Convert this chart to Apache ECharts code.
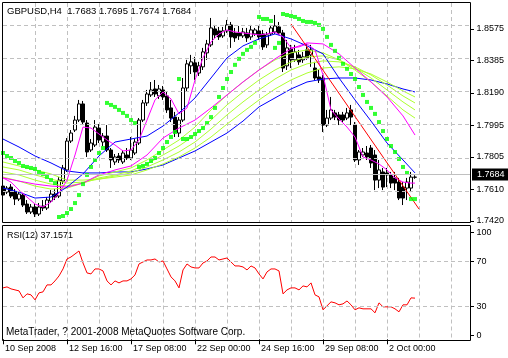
<!DOCTYPE html>
<html><head><meta charset="utf-8">
<script src="https://cdn.jsdelivr.net/npm/echarts@6.0.0/dist/echarts.min.js"></script>
<style>html,body{margin:0;padding:0;background:#fff}#c{width:508px;height:358px}</style>
</head><body><div id="c"></div>
<script>
const tickLabels = ['10 Sep 2008','12 Sep 16:00','17 Sep 08:00','22 Sep 00:00','24 Sep 16:00','29 Sep 08:00','2 Oct 00:00'];
const priceTicks = [1.7420, 1.7610, 1.7805, 1.7995, 1.8190, 1.8385, 1.8575];
const rsiLevels = [0, 30, 70, 100];
const lastPrice = 1.7684;
const titleText = 'GBPUSD,H4  1.7683 1.7695 1.7674 1.7684';
const rsiText = 'RSI(12) 37.1571';
const copyText = 'MetaTrader, ? 2001-2008 MetaQuotes Software Corp.';

const opens = [1.7630,1.7594,1.7624,1.7594,1.7552,1.7576,1.7522,1.7474,1.7504,1.7462,
 1.7510,1.7498,1.7540,1.7582,1.7570,1.7660,1.7727,1.7901,1.7967,1.8027,
 1.8124,1.8009,1.7847,1.7877,1.7979,1.7895,1.7931,1.7847,1.7775,1.7811,
 1.7775,1.7817,1.7799,1.7829,1.7889,1.8027,1.8130,1.8178,1.8214,1.8172,
 1.8208,1.8172,1.8100,1.8045,1.7949,1.8027,1.8220,1.8353,1.8371,1.8310,
 1.8347,1.8431,1.8479,1.8575,1.8563,1.8533,1.8563,1.8599,1.8551,1.8551,
 1.8533,1.8551,1.8527,1.8545,1.8563,1.8545,1.8479,1.8545,1.8557,1.8587,
 1.8551,1.8353,1.8455,1.8389,1.8419,1.8389,1.8449,1.8419,1.8340,1.8286,
 1.8280,1.7997,1.8039,1.8070,1.8058,1.8058,1.8039,1.8088,1.7997,1.7787,
 1.7817,1.7829,1.7859,1.7817,1.7666,1.7715,1.7709,1.7697,1.7679,1.7654,
 1.7624,1.7618,1.7618,1.7683];
const closes = [1.7576,1.7618,1.7570,1.7552,1.7582,1.7516,1.7474,1.7504,1.7462,1.7504,
 1.7498,1.7546,1.7582,1.7564,1.7666,1.7739,1.7901,1.7949,1.8027,1.8124,
 1.8015,1.7835,1.7889,1.7985,1.7907,1.7931,1.7847,1.7787,1.7805,1.7787,
 1.7829,1.7799,1.7847,1.7895,1.8027,1.8130,1.8184,1.8208,1.8184,1.8214,
 1.8166,1.8088,1.8039,1.7955,1.8027,1.8220,1.8365,1.8377,1.8316,1.8353,
 1.8437,1.8485,1.8581,1.8539,1.8527,1.8563,1.8599,1.8527,1.8521,1.8533,
 1.8557,1.8521,1.8569,1.8569,1.8527,1.8467,1.8539,1.8581,1.8593,1.8551,
 1.8340,1.8461,1.8389,1.8437,1.8377,1.8407,1.8401,1.8449,1.8280,1.8268,
 1.7997,1.8039,1.8088,1.8045,1.8027,1.8027,1.8070,1.8045,1.7787,1.7835,
 1.7835,1.7805,1.7769,1.7666,1.7727,1.7624,1.7697,1.7648,1.7648,1.7558,
 1.7558,1.7654,1.7684,1.7684];
const lows = [1.7552,1.7582,1.7558,1.7516,1.7540,1.7504,1.7462,1.7462,1.7444,1.7450,
 1.7480,1.7486,1.7528,1.7546,1.7558,1.7642,1.7715,1.7889,1.7955,1.8015,
 1.7997,1.7805,1.7835,1.7865,1.7889,1.7871,1.7835,1.7739,1.7757,1.7769,
 1.7763,1.7787,1.7787,1.7817,1.7877,1.8015,1.8112,1.8166,1.8166,1.8154,
 1.8148,1.8070,1.8015,1.7925,1.7925,1.8015,1.8196,1.8304,1.8268,1.8292,
 1.8328,1.8389,1.8467,1.8521,1.8509,1.8521,1.8551,1.8461,1.8497,1.8509,
 1.8521,1.8497,1.8509,1.8533,1.8509,1.8449,1.8461,1.8533,1.8545,1.8539,
 1.8316,1.8328,1.8340,1.8377,1.8359,1.8371,1.8389,1.8347,1.8268,1.8250,
 1.7955,1.7985,1.8027,1.8027,1.7997,1.8015,1.8027,1.7997,1.7775,1.7757,
 1.7805,1.7787,1.7739,1.7606,1.7618,1.7606,1.7624,1.7618,1.7606,1.7546,
 1.7516,1.7546,1.7594,1.7674];
const highs = [1.7648,1.7630,1.7642,1.7612,1.7600,1.7588,1.7546,1.7522,1.7522,1.7528,
 1.7546,1.7564,1.7606,1.7612,1.7684,1.7757,1.7919,1.7967,1.8052,1.8148,
 1.8142,1.8027,1.7913,1.8027,1.8003,1.7949,1.7997,1.7859,1.7823,1.7829,
 1.7847,1.7859,1.7925,1.7913,1.8039,1.8148,1.8208,1.8256,1.8268,1.8238,
 1.8232,1.8196,1.8148,1.8076,1.8045,1.8280,1.8389,1.8419,1.8407,1.8377,
 1.8461,1.8509,1.8641,1.8599,1.8587,1.8587,1.8629,1.8617,1.8581,1.8593,
 1.8581,1.8581,1.8599,1.8581,1.8593,1.8569,1.8557,1.8599,1.8659,1.8617,
 1.8569,1.8509,1.8479,1.8479,1.8449,1.8437,1.8485,1.8479,1.8377,1.8328,
 1.8298,1.8088,1.8166,1.8088,1.8076,1.8076,1.8100,1.8118,1.8015,1.7847,
 1.7859,1.7871,1.7877,1.7847,1.7787,1.7739,1.7739,1.7715,1.7715,1.7679,
 1.7654,1.7679,1.7715,1.7695];
const sar = [1.7829,1.7811,1.7799,1.7781,1.7769,1.7751,1.7745,1.7739,1.7733,1.7715,1.7703,1.7685,1.7666,1.7648,
 1.7444,1.7450,1.7468,1.7492,1.7528,1.7576,1.7642,1.7697,1.7745,1.7787,1.7829,1.7859,
 1.8130,1.8118,1.8106,1.8088,1.8070,1.8052,1.8027,1.8009,
 1.7745,1.7751,1.7763,1.7781,1.7799,1.7829,1.7859,1.7895,1.7925,1.7955,
 1.8274,
 1.7913,1.7913,1.7925,1.7943,1.7961,1.7979,1.8009,1.8045,1.8100,1.8166,1.8220,1.8274,1.8316,1.8359,1.8395,1.8425,1.8449,1.8467,1.8491,
 1.8647,1.8635,1.8635,1.8623,
 1.8461,1.8491,
 1.8665,1.8659,1.8653,1.8647,1.8635,1.8623,1.8617,1.8617,1.8611,1.8599,1.8575,1.8527,1.8479,1.8443,1.8401,1.8365,1.8335,1.8304,1.8274,1.8226,1.8178,1.8136,1.8100,1.8064,1.8015,1.7961,1.7913,1.7871,1.7835,1.7793,1.7745,
 1.7709,
 1.7552,1.7552];
const rsi = [46.4,47.3,45.5,44.6,43.7,37.4,41.0,40.1,35.6,41.9,
 42.8,49.1,49.1,52.7,57.2,63.5,72.5,74.3,77.0,79.7,
 68.9,59.9,59.0,63.5,63.5,61.7,52.7,49.1,52.7,50.9,
 52.7,52.7,54.5,58.1,68.0,69.8,71.6,71.6,72.5,69.8,
 70.7,63.5,56.3,52.7,46.4,62.6,68.0,65.3,64.4,64.4,
 68.9,70.7,74.3,74.3,71.6,72.5,73.4,69.8,66.2,66.2,
 65.3,62.6,66.2,64.4,59.0,54.5,60.8,63.5,63.5,61.7,
 41.0,44.6,46.4,46.4,44.6,48.2,47.3,50.9,40.1,38.3,
 26.6,30.2,33.8,32.9,31.1,32.0,34.6,31.1,26.6,28.4,
 27.5,27.5,27.5,23.9,32.9,29.3,29.3,29.3,27.5,24.8,
 31.1,31.1,37.4,37.1571];

const slowIdx = [0,4,8,12,16,20,24,28,32,36,40,44,48,52,56,60,64,68,72,76,80,84,88,92,96,100,103];
const blueSlow = [1.7913,1.7865,1.7811,1.7769,1.7721,1.7709,1.7709,1.7715,1.7715,1.7733,1.7757,1.7799,1.7841,1.7895,1.7949,1.8021,1.8106,1.8160,1.8214,1.8256,1.8274,1.8280,1.8280,1.8268,1.8244,1.8214,1.8196];
const blueFast = [1.7618,1.7594,1.7558,1.7564,1.7624,1.7703,1.7811,1.7895,1.7913,1.7931,1.7991,1.8070,1.8160,1.8280,1.8401,1.8473,1.8515,1.8545,1.8515,1.8473,1.8425,1.8280,1.8148,1.8021,1.7889,1.7787,1.7709];
const magentaSlow = [1.7679,1.7660,1.7642,1.7630,1.7624,1.7648,1.7697,1.7727,1.7751,1.7817,1.7919,1.7979,1.8027,1.8100,1.8178,1.8256,1.8328,1.8395,1.8455,1.8491,1.8485,1.8425,1.8340,1.8256,1.8166,1.8052,1.7937];
const lime1 = [1.7684,1.7660,1.7630,1.7612,1.7618,1.7648,1.7691,1.7715,1.7739,1.7787,1.7847,1.7907,1.7985,1.8088,1.8178,1.8256,1.8328,1.8389,1.8431,1.8449,1.8431,1.8389,1.8328,1.8256,1.8172,1.8088,1.8039];
const lime2 = [1.7715,1.7697,1.7666,1.7642,1.7630,1.7648,1.7679,1.7697,1.7721,1.7763,1.7817,1.7871,1.7937,1.8027,1.8118,1.8196,1.8268,1.8328,1.8377,1.8407,1.8413,1.8389,1.8340,1.8280,1.8208,1.8136,1.8088];
const lime3 = [1.7745,1.7727,1.7697,1.7672,1.7648,1.7654,1.7672,1.7691,1.7709,1.7745,1.7787,1.7835,1.7895,1.7973,1.8058,1.8136,1.8208,1.8274,1.8328,1.8365,1.8383,1.8377,1.8347,1.8298,1.8238,1.8172,1.8130];
const lime4 = [1.7775,1.7751,1.7727,1.7703,1.7666,1.7666,1.7672,1.7684,1.7697,1.7727,1.7763,1.7805,1.7859,1.7925,1.8003,1.8076,1.8148,1.8214,1.8268,1.8310,1.8340,1.8347,1.8335,1.8304,1.8256,1.8202,1.8166];
const fastIdx = [0,2,4,6,8,10,12,14,16,18,20,22,24,26,28,30,32,34,36,38,40,42,44,46,48,50,52,54,56,58,60,62,64,66,68,70,72,74,76,78,80,82,84,86,88,90,92,94,96,98,100,102,103];
const magentaFast = [1.7679,1.7654,1.7606,1.7564,1.7522,1.7504,1.7534,1.7588,1.7666,1.7817,1.7985,1.7979,1.7943,1.7907,1.7877,1.7841,1.7847,1.7907,1.8027,1.8148,1.8196,1.8154,1.8064,1.8100,1.8268,1.8401,1.8497,1.8545,1.8569,1.8557,1.8551,1.8545,1.8539,1.8545,1.8557,1.8527,1.8461,1.8467,1.8485,1.8449,1.8298,1.8088,1.8033,1.7985,1.7925,1.7805,1.7787,1.7763,1.7727,1.7679,1.7654,1.7648,1.7648];
const regIdx = [72, 104];
const regLine = [1.8605, 1.7492];

const slotCount = 118, labelStep = 16, gridStep = 8;
const cats = Array.from({length: slotCount}, (_, i) => String(i));
const labelFor = i => (i % labelStep === 0 && tickLabels[i / labelStep]) ? tickLabels[i / labelStep] : '';
const FONT = '"Liberation Sans", Arial, sans-serif';
const DASH = {color: '#c0c0c0', width: 1, type: [4, 3]};
const pairs = (idx, vals) => idx.map((x, k) => [x, vals[k]]);
const rsiInset = 3.8;
const rsiPos = rsiLevels.map(v => v === 0 ? v + rsiInset : (v === 100 ? v - rsiInset : v));

const chart = echarts.init(document.getElementById('c'), null, {renderer: 'canvas'});
const lineS = (name, idx, vals, color) => ({
  name, type: 'line', xAxisIndex: 0, yAxisIndex: 0, data: pairs(idx, vals),
  symbol: 'none', lineStyle: {color, width: 1}, z: 3, silent: true
});
const xBase = (gi) => ({
  type: 'category', gridIndex: gi, data: cats, boundaryGap: false,
  axisLine: {show: false},
  splitLine: {show: true, interval: (i) => i > 0 && i % gridStep === 0, lineStyle: DASH}
});
chart.setOption({
  animation: false,
  backgroundColor: '#fff',
  grid: [
    {left: 3, width: 468, top: 3, height: 219},
    {left: 3, width: 468, top: 228.5, height: 110.8}
  ],
  xAxis: [
    Object.assign(xBase(0), {axisTick: {show: false}, axisLabel: {show: false}}),
    Object.assign(xBase(1), {
      axisTick: {show: true, interval: (i) => labelFor(i) !== '', length: 5, lineStyle: {color: '#000'}},
      axisLabel: {show: true, interval: (i) => labelFor(i) !== '', formatter: (v, i) => labelFor(i),
        align: 'left', margin: 5, padding: [0, 0, 0, 2], fontSize: 9, fontFamily: FONT, color: '#000'}
    })
  ],
  yAxis: [
    {type: 'value', gridIndex: 0, position: 'right', min: 1.7414, max: 1.8731, scale: true,
     axisLine: {show: false}, splitLine: {show: false},
     axisTick: {show: true, length: 3, customValues: priceTicks, lineStyle: {color: '#000'}},
     axisLabel: {customValues: priceTicks, formatter: v => v.toFixed(4), margin: 5.5, fontSize: 9, fontFamily: FONT, color: '#000'}},
    {type: 'value', gridIndex: 1, position: 'right', min: 0, max: 100,
     axisLine: {show: false}, splitLine: {show: false},
     axisTick: {show: true, length: 3, customValues: rsiPos, lineStyle: {color: '#000'}},
     axisLabel: {customValues: rsiPos, formatter: v => { const k = rsiPos.findIndex(p => Math.abs(p - v) < 1e-6); return k >= 0 ? String(rsiLevels[k]) : ''; },
       margin: 5.5, fontSize: 9, fontFamily: FONT, color: '#000'}}
  ],
  series: [
    {type: 'line', xAxisIndex: 0, yAxisIndex: 0, data: [], z: 1, silent: true,
     markLine: {silent: true, symbol: ['none', 'none'], animation: false,
       data: priceTicks.map(v => ({yAxis: v, lineStyle: DASH, label: {show: false}})).concat([
         {yAxis: lastPrice, lineStyle: {color: '#c0c0c0', width: 1, type: 'solid'},
          label: {show: true, position: 'end', distance: 1, formatter: lastPrice.toFixed(4),
                  backgroundColor: '#000', color: '#fff', fontSize: 9, fontFamily: FONT,
                  padding: [2, 4, 1, 5]}}])}},
    {type: 'candlestick', xAxisIndex: 0, yAxisIndex: 0, z: 2, silent: true, barWidth: 3,
     data: opens.map((o, i) => [o, closes[i], lows[i], highs[i]]),
     itemStyle: {color: '#ffffff', color0: '#000000', borderColor: '#000000', borderColor0: '#000000', borderWidth: 1}},
    lineS('blueSlow', slowIdx, blueSlow, '#0000ff'),
    lineS('lime4', slowIdx, lime4, '#adff2f'),
    lineS('lime3', slowIdx, lime3, '#adff2f'),
    lineS('lime2', slowIdx, lime2, '#adff2f'),
    lineS('lime1', slowIdx, lime1, '#adff2f'),
    lineS('magentaSlow', slowIdx, magentaSlow, '#ff00ff'),
    lineS('blueFast', slowIdx, blueFast, '#0000ff'),
    lineS('magentaFast', fastIdx, magentaFast, '#ff00ff'),
    lineS('regression', regIdx, regLine, '#ff0000'),
    {type: 'scatter', xAxisIndex: 0, yAxisIndex: 0, z: 4, silent: true,
     data: sar.map((v, i) => [i, v]), symbol: 'rect', symbolSize: 4, itemStyle: {color: '#00ff00'}},
    {type: 'line', xAxisIndex: 1, yAxisIndex: 1, z: 3, silent: true, data: rsi,
     symbol: 'none', lineStyle: {color: '#ff0000', width: 1},
     markLine: {silent: true, symbol: ['none', 'none'], animation: false,
       data: [{yAxis: 30}, {yAxis: 70}], lineStyle: DASH, label: {show: false}}}
  ],
  graphic: [
    {type: 'rect', z: 100, silent: true, shape: {x: 2.5, y: 2.5, width: 468, height: 220}, style: {fill: null, stroke: '#000', lineWidth: 1}},
    {type: 'rect', z: 100, silent: true, shape: {x: 2.5, y: 225.5, width: 468, height: 115}, style: {fill: null, stroke: '#000', lineWidth: 1}},
    {type: 'text', z: 100, silent: true, x: 7, y: 11, style: {text: titleText, fill: '#000', font: '9.5px ' + FONT, verticalAlign: 'middle'}},
    {type: 'text', z: 100, silent: true, x: 7, y: 235.5, style: {text: rsiText, fill: '#000', font: '9px ' + FONT, verticalAlign: 'middle'}},
    {type: 'text', z: 100, silent: true, x: 6, y: 332.5, style: {text: copyText, fill: '#000', font: '10px ' + FONT, verticalAlign: 'middle'}}
  ]
});
</script>
</body></html>
